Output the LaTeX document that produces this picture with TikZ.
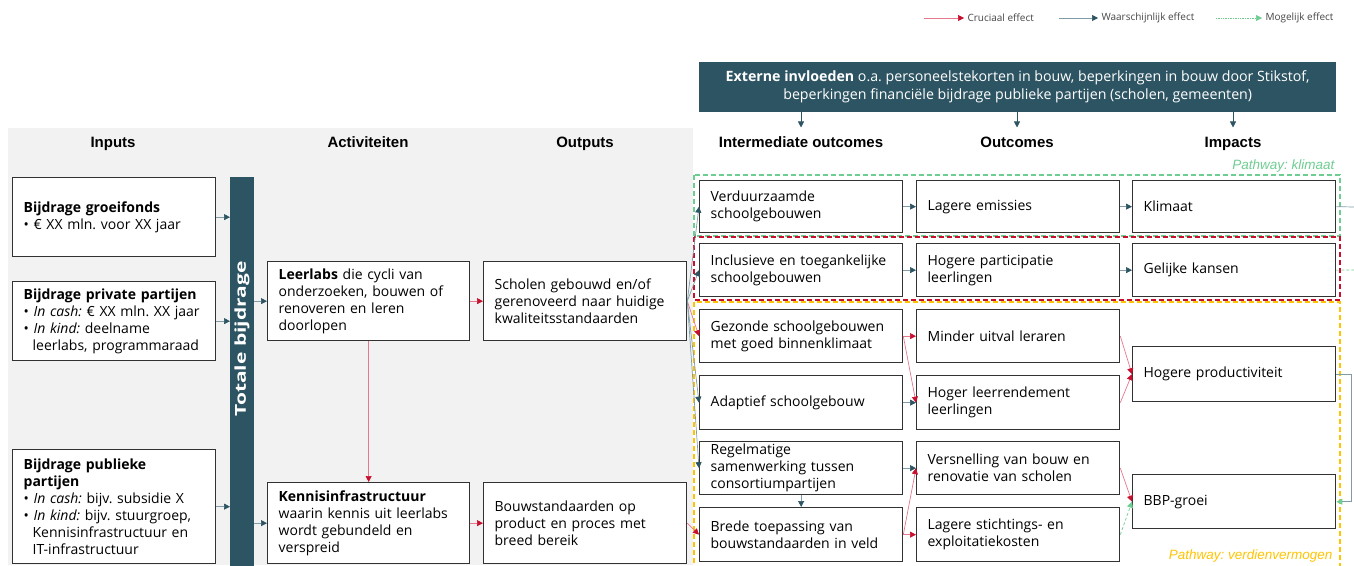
\documentclass[tikz,border=0pt]{standalone}
\usepackage{fontspec}
\usepackage{graphicx}
\setmainfont{Open Sans}
\newfontfamily\arialfont{Liberation Sans}
\usetikzlibrary{arrows.meta}
\definecolor{tocdark}{RGB}{45,84,98}
\definecolor{tocred}{RGB}{200,16,46}
\definecolor{tocgreen}{RGB}{110,205,145}
\definecolor{tocyellow}{RGB}{255,196,0}
\definecolor{redline}{RGB}{228,120,140}
\definecolor{blueline}{RGB}{128,156,168}
\definecolor{boxline}{RGB}{50,50,50}
\definecolor{bggrey}{RGB}{242,242,242}
\definecolor{legendgrey}{RGB}{70,70,70}
\frenchspacing
\begin{document}
\begin{tikzpicture}[x=1pt,y=-1pt,
    box/.style={draw=boxline, line width=1.3pt, fill=white, anchor=north west,
        minimum width=203pt, minimum height=53pt, text width=181pt, inner xsep=11pt,
        inner ysep=0pt, align=left, font=\fontsize{14}{17}\selectfont},
    header/.style={text height=11pt, text depth=3pt, font=\arialfont\bfseries\fontsize{15}{15}\selectfont},
    pathlabel/.style={anchor=east, font=\arialfont\itshape\fontsize{13.5}{13.5}\selectfont},
    legend/.style={anchor=west, text=legendgrey, font=\fontsize{10}{10}\selectfont},
    crucial/.style={draw=redline, line width=0.7pt, -{Triangle[length=6pt,width=6pt,color=tocred]}},
    likely/.style={draw=blueline, line width=0.7pt, -{Triangle[length=6pt,width=6pt,color=tocdark]}},
    possible/.style={draw=tocgreen, line width=0.7pt, densely dashed, -{Triangle[length=6pt,width=6pt,color=tocgreen]}}
]
    \useasboundingbox (0,0) rectangle (1354,565);
    \fill[bggrey] (8,128) rectangle (693,565);

    \coordinate (lcru) at (924,18);
    \node[legend] (lcrut) at (964,18) {Cruciaal effect};
    \coordinate (llik) at (1059,18);
    \node[legend] (llikt) at (1098,18) {Waarschijnlijk effect};
    \coordinate (lpos) at (1216,18);
    \node[legend] (lpost) at (1262,18) {Mogelijk effect};
    \draw[crucial] (lcru) -- (lcrut.west);
    \draw[likely] (llik) -- (llikt.west);
    \draw[possible, densely dotted] (lpos) -- (lpost.west);

    \node[fill=tocdark, anchor=north west, minimum width=637pt, minimum height=50pt,
        align=center, text=white, font=\fontsize{14.2}{18}\selectfont] (ext) at (699,62)
        {\textbf{Externe invloeden} o.a. personeelstekorten in bouw, beperkingen in bouw door Stikstof,\\
        beperkingen financiële bijdrage publieke partijen (scholen, gemeenten)};

    \node[header] (hin) at (113,143) {Inputs};
    \node[header] (hact) at (368,143) {Activiteiten};
    \node[header] (hout) at (585,143) {Outputs};
    \node[header] (hint) at (801,143) {Intermediate outcomes};
    \node[header] (hoc) at (1017,143) {Outcomes};
    \node[header] (himp) at (1233,143) {Impacts};
    \draw[likely, draw=tocdark] (ext.south -| hint) -- ([yshift=5pt]hint.north);
    \draw[likely, draw=tocdark] (ext.south -| hoc) -- ([yshift=5pt]hoc.north);
    \draw[likely, draw=tocdark] (ext.south -| himp) -- ([yshift=5pt]himp.north);

    \draw[tocgreen, line width=1.2pt, dash pattern=on 5pt off 3pt] (694,175) rectangle (1340,236);
    \draw[tocred, line width=1.2pt, dash pattern=on 5pt off 3pt] (694,237) rectangle (1340,300);
    \draw[tocyellow, line width=1.2pt, dash pattern=on 5pt off 3pt] (694,302) rectangle (1340,568);
    \node[pathlabel, text=tocgreen] (pklim) at (1338,166) {Pathway: klimaat};
    \node[pathlabel, text=tocred] (psoc) at (1336,291) {Pathway: sociaal-ethisch};
    \node[pathlabel, text=tocyellow] (pver) at (1336,556) {Pathway: verdienvermogen};

    \node[box, minimum height=79pt] (grow) at (12,177)
        {\textbf{Bijdrage groeifonds}\\ • € XX mln. voor XX jaar};
    \node[box, minimum height=79pt] (priv) at (12,281)
        {\textbf{Bijdrage private partijen}\\ • \textit{In cash:} € XX mln. XX jaar\\
        • \textit{In kind:} deelname\\ \hspace*{9pt}leerlabs, programmaraad};
    \node[box, minimum height=114pt] (publ) at (12,449)
        {\textbf{Bijdrage publieke}\\ \textbf{partijen}\\ • \textit{In cash:} bijv. subsidie X\\
        • \textit{In kind:} bijv. stuurgroep,\\ \hspace*{9pt}Kennisinfrastructuur en\\
        \hspace*{9pt}IT-infrastructuur};
    \node[fill=tocdark, anchor=north west, minimum width=24pt, minimum height=390pt] (total) at (230,177) {};
    \node[rotate=90, text=white, font=\bfseries\fontsize{15}{15}\selectfont] (totlbl) at (242,339)
        {\scalebox{1.4}[1]{Totale bijdrage}};

    \node[box, minimum width=202pt, text width=180pt, minimum height=79pt] (labs) at (267,261)
        {\textbf{Leerlabs} die cycli van\\ onderzoeken, bouwen of\\ renoveren en leren\\ doorlopen};
    \node[box, minimum width=202pt, text width=180pt, minimum height=81pt] (kennis) at (267,482)
        {\textbf{Kennisinfrastructuur}\\ waarin kennis uit leerlabs\\ wordt gebundeld en\\ verspreid};
    \node[box, minimum height=79pt] (scholen) at (483,261)
        {Scholen gebouwd en/of\\ gerenoveerd naar huidige\\ kwaliteitsstandaarden};
    \node[box, minimum height=81pt] (bouw) at (483,482)
        {Bouwstandaarden op\\ product en proces met\\ breed bereik};

    \node[box, minimum height=52pt] (verd) at (699,180) {Verduurzaamde\\ schoolgebouwen};
    \node[box] (incl) at (699,243) {Inclusieve en toegankelijke\\ schoolgebouwen};
    \node[box] (gez) at (699,309) {Gezonde schoolgebouwen\\ met goed binnenklimaat};
    \node[box, minimum height=54pt] (adapt) at (699,375) {Adaptief schoolgebouw};
    \node[box] (regel) at (699,441) {Regelmatige\\ samenwerking tussen\\ consortiumpartijen};
    \node[box, minimum height=54pt] (brede) at (699,507) {Brede toepassing van\\ bouwstandaarden in veld};

    \node[box, minimum height=52pt] (emis) at (916,180) {Lagere emissies};
    \node[box] (part) at (916,243) {Hogere participatie\\ leerlingen};
    \node[box] (uitval) at (916,309) {Minder uitval leraren};
    \node[box, minimum height=54pt] (rend) at (916,375) {Hoger leerrendement\\ leerlingen};
    \node[box] (versn) at (916,441) {Versnelling van bouw en\\ renovatie van scholen};
    \node[box, minimum height=54pt] (kosten) at (916,507) {Lagere stichtings- en\\ exploitatiekosten};

    \node[box, minimum height=52pt] (klim) at (1132,180) {Klimaat};
    \node[box] (kans) at (1132,243) {Gelijke kansen};
    \node[box, minimum height=55pt] (prod) at (1132,346) {Hogere productiviteit};
    \node[box, minimum height=54pt] (bbp) at (1132,474) {BBP-groei};

    \draw[likely] (grow.east) -- (grow.east -| total.west);
    \draw[likely] (priv.east) -- (priv.east -| total.west);
    \draw[likely] (publ.east) -- (publ.east -| total.west);
    \draw[likely] (total.east |- labs.west) -- (labs.west);
    \draw[likely] (total.east |- kennis.west) -- (kennis.west);
    \draw[crucial] (labs.south) -- (kennis.north);
    \draw[crucial] (labs.east) -- (scholen.west);
    \draw[crucial] (kennis.east) -- (bouw.west);

    \draw[likely] (scholen.east) -- (verd.west);
    \draw[likely] (scholen.east) -- (incl.west);
    \draw[crucial] (scholen.east) -- (gez.west);
    \draw[likely] (scholen.east) -- (adapt.west);
    \draw[likely] (scholen.east) -- (regel.west);
    \draw[crucial] (bouw.east) -- (brede.west);
    \draw[likely] (regel.south) -- (brede.north);

    \draw[likely] (verd.east) -- (emis.west);
    \draw[likely] (incl.east) -- (part.west);
    \draw[crucial] (gez.east) -- (uitval.west);
    \draw[crucial] (gez.east) -- (rend.west);
    \draw[likely] (adapt.east) -- (rend.west);
    \draw[likely] (regel.east) -- (versn.west);
    \draw[crucial] (brede.east) -- (versn.west);
    \draw[crucial] (brede.east) -- (kosten.west);

    \draw[likely] (emis.east) -- (klim.west);
    \draw[likely] (part.east) -- (kans.west);
    \draw[crucial] (uitval.east) -- (prod.west);
    \draw[crucial] (rend.east) -- (prod.west);
    \draw[crucial] (versn.east) -- (bbp.west);
    \draw[possible] (kosten.east) -- (bbp.west);

    \coordinate (klimout) at (1354,207);
    \coordinate (kansout) at (1354,270);
    \draw[blueline, line width=0.7pt] (klim.east) -- (klimout);
    \draw[tocgreen, line width=0.7pt, densely dashed] (kans.east) -- (kansout);
    \draw[likely, -{Triangle[length=6pt,width=6pt,color=tocgreen]}] (prod.east) -- ++(15,0) |- (bbp.east);
\end{tikzpicture}
\end{document}
